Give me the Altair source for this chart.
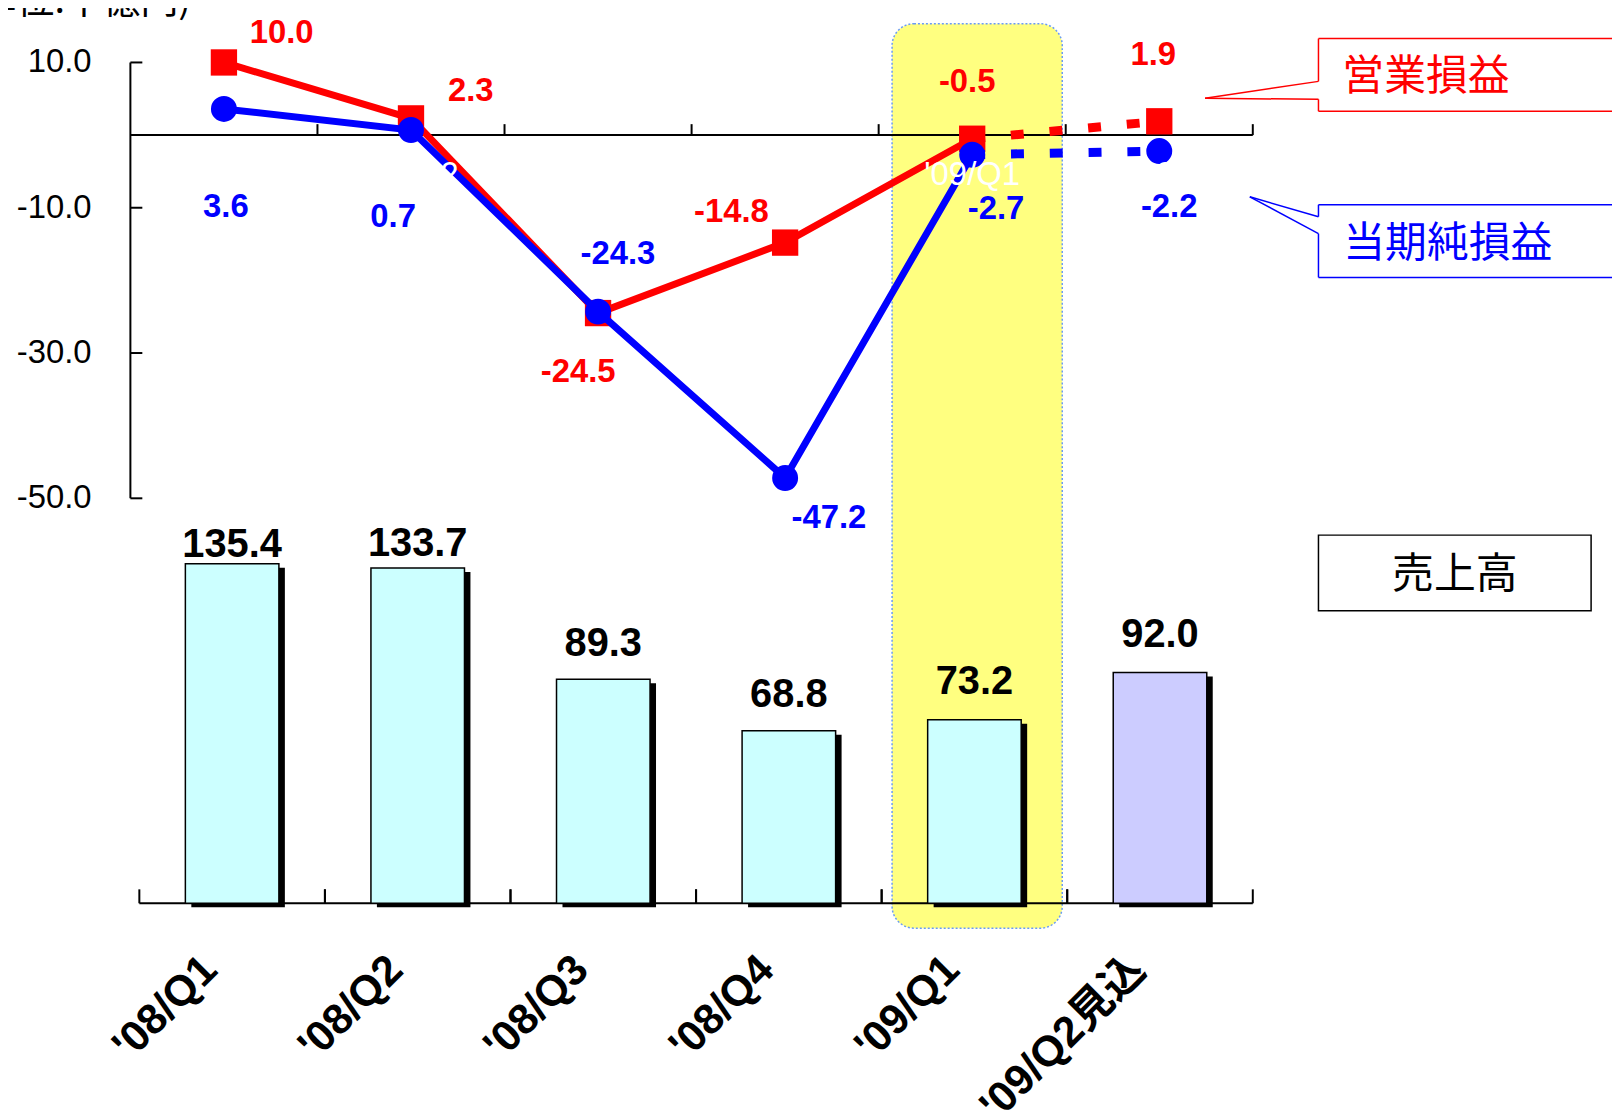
import altair as alt
import pandas as pd

# ---------------- data ----------------
CATEGORIES = ["'08/Q1", "'08/Q2", "'08/Q3", "'08/Q4", "'09/Q1", "'09/Q2見込"]
SALES = [135.4, 133.7, 89.3, 68.8, 73.2, 92.0]          # 売上高
OPERATING = [10.0, 2.3, -24.5, -14.8, -0.5, 1.9]        # 営業損益
NET = [3.6, 0.7, -24.3, -47.2, -2.7, -2.2]              # 当期純損益
KIND = ["actual", "actual", "actual", "actual", "actual", "forecast"]
Y_TICKS = [10.0, -10.0, -30.0, -50.0]
UNIT_TEXT = "(単位:十億円)"

# ---------------- layout / style ----------------
W, H = 1128, 897
LINE_DOMAIN = [-105.75, 17.12]
BAR_DOMAIN = [0, 355.95]
OP_LABEL_OFFSETS = [(58, -30), (60, -27), (-20, 59), (-54, -31), (-5, -57), (-6, -67)]
NET_LABEL_OFFSETS = [(2, 99), (-18, 87), (20, -58), (44, 40), (24, 55), (10, 56)]
BAR_LABEL_GAPS = [7, 12, 23, 24, 26, 26]
RED, BLUE = "#FF0000", "#0000FF"
FONT = "Liberation Sans, Arial, Noto Sans CJK JP, sans-serif"
CJK = "Noto Sans CJK JP, sans-serif"

df = pd.DataFrame({
    "i": list(range(len(CATEGORIES))),
    "cat": CATEGORIES,
    "sales": SALES,
    "op": OPERATING,
    "net": NET,
    "kind": KIND,
    "sales_label": [f"{v:.1f}" for v in SALES],
    "op_label": [f"{v:.1f}" for v in OPERATING],
    "net_label": [f"{v:.1f}" for v in NET],
})
base = alt.Chart(df)


def xt(**kw):
    return alt.X("cat:N", sort=CATEGORIES, axis=None,
                 scale=alt.Scale(type="band", domain=CATEGORIES, range=[0, W],
                                 paddingInner=0, paddingOuter=0), **kw)


def xb(**kw):
    return alt.X("cat:N", sort=CATEGORIES, axis=None,
                 scale=alt.Scale(type="band", domain=CATEGORIES, range=[9, W],
                                 paddingInner=0, paddingOuter=0), **kw)


def yl(field):
    return alt.Y(f"{field}:Q", axis=None,
                 scale=alt.Scale(domain=LINE_DOMAIN, nice=False, zero=False))


def yb(field):
    return alt.Y(f"{field}:Q", axis=None,
                 scale=alt.Scale(domain=BAR_DOMAIN, nice=False, zero=False))


layers = []

# highlight behind '09/Q1
layers.append(
    base.transform_filter("datum.i == 4")
    .mark_bar(width=171, xOffset=5, cornerRadius=22, fill="#FFFF80",
              stroke="#6A9BF4", strokeWidth=1.5, strokeDash=[2, 2])
    .encode(x=xt(), y=alt.value(13), y2=alt.value(922))
)

# left axis line, ticks, labels
tick_df = pd.DataFrame({"v": Y_TICKS, "label": [f"{v:.1f}" for v in Y_TICKS]})
layers.append(
    alt.Chart(pd.DataFrame({"a": [min(Y_TICKS)], "b": [max(Y_TICKS)]}))
    .mark_rule(color="black", strokeWidth=2)
    .encode(x=alt.value(0), y=yl("a"), y2=alt.Y2("b:Q"))
)
layers.append(
    alt.Chart(tick_df).mark_rule(color="black", strokeWidth=2)
    .encode(x=alt.value(0), x2=alt.value(12), y=yl("v"))
)
layers.append(
    alt.Chart(tick_df).mark_text(align="right", baseline="middle", font=FONT,
                                 fontSize=33, color="black")
    .encode(x=alt.value(-39), y=yl("v"), text="label:N")
)

# zero line with upward ticks
layers.append(
    alt.Chart(pd.DataFrame({"z": [0]})).mark_rule(color="black", strokeWidth=2)
    .encode(x=alt.value(0), x2=alt.value(W), y=yl("z"))
)
layers.append(
    base.transform_calculate(z0="0", z1="1.507")
    .mark_rule(color="black", strokeWidth=2)
    .encode(x=xt(bandPosition=1), y=yl("z0"), y2=alt.Y2("z1:Q"))
)

# bottom axis with upward ticks
layers.append(
    alt.Chart(pd.DataFrame({"z": [0]})).mark_rule(color="black", strokeWidth=2)
    .encode(x=alt.value(9), x2=alt.value(W), y=yb("z"))
)
for bp in (0, 1):
    layers.append(
        base.transform_calculate(z0="0", z1="5.56")
        .mark_rule(color="black", strokeWidth=2)
        .encode(x=xb(bandPosition=bp), y=yb("z0"), y2=alt.Y2("z1:Q"))
    )

# bars: shadow + bar
layers.append(
    base.mark_bar(width=94, xOffset=6, yOffset=4, y2Offset=4, color="black")
    .encode(x=xb(), y=yb("sales"))
)
layers.append(
    base.mark_bar(width=94, stroke="black", strokeWidth=1.5)
    .encode(x=xb(), y=yb("sales"),
            color=alt.Color("kind:N", legend=None,
                            scale=alt.Scale(domain=["actual", "forecast"],
                                            range=["#CCFFFF", "#CCCCFF"])))
)
for i, gap in enumerate(BAR_LABEL_GAPS):
    layers.append(
        base.transform_filter(f"datum.i == {i}")
        .mark_text(dy=-gap, baseline="alphabetic", font=FONT, fontSize=40,
                   fontWeight="bold", color="black")
        .encode(x=xb(), y=yb("sales"), text="sales_label:N")
    )

# lines
layers.append(
    base.transform_filter("datum.i <= 4").mark_line(color=RED, strokeWidth=7)
    .encode(x=xt(), y=yl("op"))
)
layers.append(
    base.transform_filter("datum.i >= 4")
    .mark_line(color=RED, strokeWidth=9, strokeDash=[13, 26])
    .encode(x=xt(), y=yl("op"))
)
layers.append(
    base.mark_point(shape="square", filled=True, size=700, color=RED, opacity=1)
    .encode(x=xt(), y=yl("op"))
)
layers.append(
    base.transform_filter("datum.i <= 4").mark_line(color=BLUE, strokeWidth=7)
    .encode(x=xt(), y=yl("net"))
)
layers.append(
    base.transform_filter("datum.i >= 4")
    .mark_line(color=BLUE, strokeWidth=9, strokeDash=[13, 26])
    .encode(x=xt(), y=yl("net"))
)
layers.append(
    base.mark_point(shape="circle", filled=True, size=680, color=BLUE, opacity=1)
    .encode(x=xt(), y=yl("net"))
)

# white category labels (only visible where they cross lines / highlight)
layers.append(
    base.mark_text(color="white", font=FONT, fontSize=33, baseline="middle")
    .encode(x=xt(), y=alt.value(165), text="cat:N")
)

# value labels of lines
for i, (dx, dy) in enumerate(OP_LABEL_OFFSETS):
    layers.append(
        base.transform_filter(f"datum.i == {i}")
        .mark_text(dx=dx, dy=dy, baseline="middle", font=FONT, fontSize=33,
                   fontWeight="bold", color=RED)
        .encode(x=xt(), y=yl("op"), text="op_label:N")
    )
for i, (dx, dy) in enumerate(NET_LABEL_OFFSETS):
    layers.append(
        base.transform_filter(f"datum.i == {i}")
        .mark_text(dx=dx, dy=dy, baseline="middle", font=FONT, fontSize=33,
                   fontWeight="bold", color=BLUE)
        .encode(x=xt(), y=yl("net"), text="net_label:N")
    )

# callouts (legend boxes)
segs = pd.DataFrame([
    # red callout
    (1194, 28, 1600, 28, RED), (1194, 101, 1600, 101, RED),
    (1194, 28, 1194, 71, RED), (1194, 89, 1194, 101, RED),
    (1194, 71, 1080, 88, RED), (1080, 88, 1194, 89, RED),
    # blue callout
    (1194, 195, 1600, 195, BLUE), (1194, 268, 1600, 268, BLUE),
    (1194, 195, 1194, 207, BLUE), (1194, 224, 1194, 268, BLUE),
    (1194, 207, 1125, 187, BLUE), (1125, 187, 1194, 224, BLUE),
], columns=["x1", "y1", "x2", "y2", "c"])
layers.append(
    alt.Chart(segs).mark_rule(strokeWidth=1.5)
    .encode(x=alt.X("x1:Q", scale=None), y=alt.Y("y1:Q", scale=None),
            x2="x2:Q", y2="y2:Q", color=alt.Color("c:N", scale=None))
)
layers.append(
    alt.Chart(pd.DataFrame({"x1": [1194], "x2": [1468], "y1": [527], "y2": [603]}))
    .mark_rect(fill="white", stroke="black", strokeWidth=1.5)
    .encode(x=alt.X("x1:Q", scale=None), x2="x2:Q",
            y=alt.Y("y1:Q", scale=None), y2="y2:Q")
)
layers.append(
    alt.Chart(pd.DataFrame({"t": ["営業損益"]}))
    .mark_text(align="left", baseline="middle", font=CJK, fontSize=42, color=RED)
    .encode(x=alt.value(1218), y=alt.value(67), text="t:N")
)
layers.append(
    alt.Chart(pd.DataFrame({"t": ["当期純損益"]}))
    .mark_text(align="left", baseline="middle", font=CJK, fontSize=42, color=BLUE)
    .encode(x=alt.value(1219), y=alt.value(234), text="t:N")
)
layers.append(
    alt.Chart(pd.DataFrame({"t": ["売上高"]}))
    .mark_text(align="center", baseline="middle", font=CJK, fontSize=42, color="black")
    .encode(x=alt.value(1331), y=alt.value(567), text="t:N")
)

# unit text (partially off the top)
layers.append(
    alt.Chart(pd.DataFrame({"t": [UNIT_TEXT]}))
    .mark_text(align="right", baseline="alphabetic", font=CJK, fontSize=38, color="black")
    .encode(x=alt.value(61), y=alt.value(2), text="t:N")
)

# rotated category labels
layers.append(
    base.mark_text(angle=315, align="right", baseline="middle", xOffset=-22,
                   font=FONT, fontSize=43, fontWeight="bold", color="black")
    .encode(x=xb(), y=alt.value(957), text="cat:N")
)

chart = (
    alt.layer(*layers)
    .resolve_scale(x="independent", y="independent", color="independent")
    .properties(width=W, height=H, background="white",
                autosize=alt.AutoSizeParams(type="none"),
                padding={"left": 123, "top": 0, "right": 361, "bottom": 206})
    .configure_view(strokeWidth=0)
)

chart.save("out.html", embed_options={"renderer": "svg", "actions": False})
